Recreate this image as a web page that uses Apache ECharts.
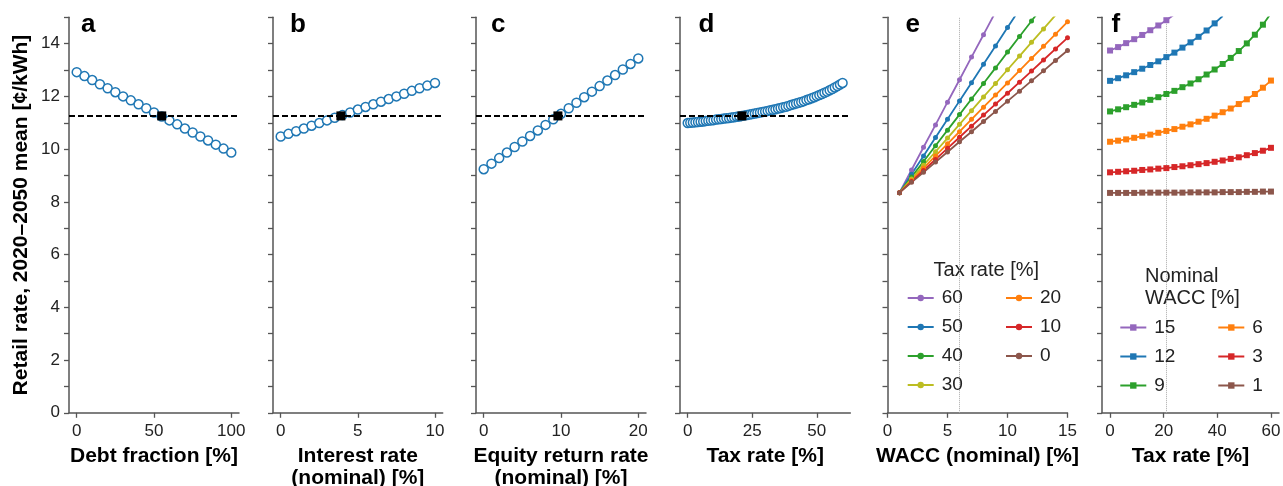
<!DOCTYPE html>
<html>
<head>
<meta charset="utf-8">
<script src="https://cdn.jsdelivr.net/npm/echarts@6/dist/echarts.min.js"></script>
<style>
  html, body { margin: 0; padding: 0; background: #fff; }
  #chart { width: 1283px; height: 486px; }
</style>
</head>
<body>
<div id="chart"></div>
<script>
// ---- Sensitivity data: retail rate, 2020–2050 mean [¢/kWh] ----
const baseRetail = 11.26;

// (a) debt fraction
const debtFraction = [0, 5, 10, 15, 20, 25, 30, 35, 40, 45, 50, 55, 60, 65, 70, 75, 80, 85, 90, 95, 100];
const retailByDebt = [12.92, 12.77, 12.62, 12.46, 12.31, 12.16, 12.00, 11.85, 11.70, 11.55, 11.39,
                      11.24, 11.09, 10.94, 10.78, 10.63, 10.48, 10.33, 10.17, 10.02, 9.87];
const baseDebt = 55;

// (b) nominal interest rate
const interestRate = [0, 0.5, 1, 1.5, 2, 2.5, 3, 3.5, 4, 4.5, 5, 5.5, 6, 6.5, 7, 7.5, 8, 8.5, 9, 9.5, 10];
const retailByInterest = [10.48, 10.58, 10.68, 10.78, 10.89, 10.99, 11.09, 11.19, 11.29, 11.39, 11.50,
                          11.60, 11.70, 11.80, 11.90, 12.00, 12.10, 12.21, 12.31, 12.41, 12.51];
const baseInterest = 3.9;

// (c) nominal equity return rate
const equityReturn = [0, 1, 2, 3, 4, 5, 6, 7, 8, 9, 10, 11, 12, 13, 14, 15, 16, 17, 18, 19, 20];
const retailByEquity = [9.24, 9.45, 9.66, 9.87, 10.08, 10.29, 10.50, 10.71, 10.92, 11.13, 11.34,
                        11.55, 11.76, 11.97, 12.18, 12.39, 12.60, 12.81, 13.02, 13.23, 13.44];
const baseEquity = 9.6;

// (d) tax rate
const taxRate = [0, 1, 2, 3, 4, 5, 6, 7, 8, 9, 10, 11, 12, 13, 14, 15, 16, 17, 18, 19, 20,
                 21, 22, 23, 24, 25, 26, 27, 28, 29, 30, 31, 32, 33, 34, 35, 36, 37, 38, 39, 40,
                 41, 42, 43, 44, 45, 46, 47, 48, 49, 50, 51, 52, 53, 54, 55, 56, 57, 58, 59, 60];
const retailByTax = [10.99, 11.00, 11.01, 11.02, 11.03, 11.04, 11.05, 11.07, 11.08, 11.09,
                     11.10, 11.12, 11.13, 11.14, 11.16, 11.17, 11.18, 11.20, 11.21, 11.23,
                     11.24, 11.26, 11.28, 11.29, 11.31, 11.33, 11.35, 11.37, 11.39, 11.41,
                     11.43, 11.45, 11.47, 11.49, 11.51, 11.54, 11.56, 11.59, 11.61, 11.64,
                     11.67, 11.70, 11.73, 11.76, 11.79, 11.82, 11.86, 11.89, 11.93, 11.97,
                     12.01, 12.05, 12.09, 12.14, 12.18, 12.23, 12.28, 12.34, 12.39, 12.45, 12.51];
const baseTax = 21;

// (e) nominal WACC, one line per tax rate
const waccNominal = [1, 2, 3, 4, 5, 6, 7, 8, 9, 10, 11, 12, 13, 14, 15];
const taxLevels = ['60', '50', '40', '30', '20', '10', '0'];
const retailWaccTax60 = [8.35, 9.21, 10.07, 10.92, 11.78, 12.63, 13.49, 14.34, 15.20];
const retailWaccTax50 = [8.35, 9.05, 9.74, 10.44, 11.13, 11.83, 12.52, 13.22, 13.91, 14.61, 15.30];
const retailWaccTax40 = [8.35, 8.94, 9.53, 10.13, 10.72, 11.31, 11.90, 12.49, 13.08, 13.68, 14.27, 14.86, 15.45];
const retailWaccTax30 = [8.35, 8.87, 9.39, 9.90, 10.42, 10.94, 11.46, 11.98, 12.49, 13.01, 13.53, 14.05, 14.56, 15.08];
const retailWaccTax20 = [8.35, 8.81, 9.28, 9.74, 10.20, 10.66, 11.13, 11.59, 12.05, 12.51, 12.98, 13.44, 13.90, 14.36, 14.83];
const retailWaccTax10 = [8.35, 8.77, 9.19, 9.61, 10.03, 10.45, 10.87, 11.29, 11.71, 12.12, 12.54, 12.96, 13.38, 13.80, 14.22];
const retailWaccTax0  = [8.35, 8.74, 9.12, 9.51, 9.89, 10.28, 10.66, 11.05, 11.43, 11.82, 12.20, 12.59, 12.97, 13.36, 13.74];
const baseWacc = 6;

// (f) tax rate, one line per nominal WACC
const taxRateCoarse = [0, 3, 6, 9, 12, 15, 18, 21, 24, 27, 30, 33, 36, 39, 42, 45, 48, 51, 54, 57, 60];
const waccLevels = ['15', '12', '9', '6', '3', '1'];
const retailTaxWacc15 = [13.74, 13.87, 14.02, 14.17, 14.33, 14.51, 14.69, 14.89, 15.11];
const retailTaxWacc12 = [12.59, 12.69, 12.80, 12.92, 13.05, 13.19, 13.33, 13.49, 13.66, 13.85, 14.05, 14.26, 14.50, 14.77, 15.05];
const retailTaxWacc9  = [11.43, 11.51, 11.59, 11.68, 11.77, 11.87, 11.97, 12.09, 12.21, 12.35, 12.49,
                         12.65, 12.83, 13.02, 13.23, 13.46, 13.72, 14.01, 14.34, 14.72, 15.15];
const retailTaxWacc6  = [10.28, 10.32, 10.37, 10.43, 10.49, 10.55, 10.62, 10.69, 10.76, 10.85, 10.94,
                         11.04, 11.15, 11.27, 11.40, 11.54, 11.71, 11.89, 12.09, 12.33, 12.60];
const retailTaxWacc3  = [9.12, 9.14, 9.16, 9.18, 9.21, 9.23, 9.26, 9.28, 9.32, 9.35, 9.39,
                         9.43, 9.47, 9.52, 9.57, 9.63, 9.69, 9.77, 9.85, 9.94, 10.05];
const retailTaxWacc1  = [8.34, 8.34, 8.34, 8.34, 8.35, 8.35, 8.35, 8.35, 8.35, 8.35, 8.36,
                         8.36, 8.36, 8.36, 8.37, 8.37, 8.37, 8.38, 8.38, 8.39, 8.39];

// ---- Styling ----
const FONT = "'Liberation Sans', Arial, Helvetica, sans-serif";
const AXIS_COLOR = '#555';
const TEXT_COLOR = '#222';
const BLUE = '#1f77b4';
const LEVEL_COLORS = ['#9467bd', '#1f77b4', '#2ca02c', '#bcbd22', '#ff7f0e', '#d62728', '#8c564b'];
const LEVEL_COLORS_F = ['#9467bd', '#1f77b4', '#2ca02c', '#ff7f0e', '#d62728', '#8c564b'];

const TOP = 17.3, HEIGHT = 395.5;
const panels = [
  { left: 69,    width: 170,   min: -5,   max: 105,  ticks: [0, 50, 100],     name: 'Debt fraction [%]' },
  { left: 273,   width: 169.7, min: -0.5, max: 10.5, ticks: [0, 5, 10],       name: 'Interest rate\n(nominal) [%]' },
  { left: 476,   width: 170,   min: -1,   max: 21,   ticks: [0, 10, 20],      name: 'Equity return rate\n(nominal) [%]' },
  { left: 680,   width: 170.3, min: -3,   max: 63,   ticks: [0, 25, 50],      name: 'Tax rate [%]' },
  { left: 887.5, width: 180,   min: 0,    max: 15,   ticks: [0, 5, 10, 15],   name: 'WACC (nominal) [%]' },
  { left: 1102,  width: 177,   min: -3,   max: 63,   ticks: [0, 20, 40, 60],  name: 'Tax rate [%]' }
];
const letters = [
  { t: 'a', x: 81 }, { t: 'b', x: 290 }, { t: 'c', x: 491 },
  { t: 'd', x: 698.5 }, { t: 'e', x: 905.5 }, { t: 'f', x: 1111.5 }
];

const pairs = (xs, ys) => ys.map((y, i) => [xs[i], y]);

// Fixed plot boxes; axis names may run to the canvas edge without shrinking the plots
const grid = panels.map(p => ({
  left: p.left, width: p.width, top: TOP, height: HEIGHT,
  containLabel: false, outerBoundsMode: 'none'
}));

const lineAxis = { show: true, onZero: false, lineStyle: { color: AXIS_COLOR, width: 1.5 } };
const tickAxis = { show: true, length: 5, inside: false, lineStyle: { color: AXIS_COLOR, width: 1.3 } };

const xAxis = panels.map((p, i) => ({
  type: 'value', gridIndex: i, min: p.min, max: p.max,
  axisLine: lineAxis,
  axisTick: Object.assign({}, tickAxis, { customValues: p.ticks }),
  axisLabel: { customValues: p.ticks, margin: 10.5, fontSize: 17, color: TEXT_COLOR, fontFamily: FONT },
  splitLine: { show: false },
  name: p.name, nameLocation: 'middle', nameGap: 31,
  nameTextStyle: { fontSize: 21, fontWeight: 'bold', color: '#000', fontFamily: FONT, lineHeight: 22 }
}));

const yAxis = panels.map((p, i) => ({
  type: 'value', gridIndex: i, min: 0, max: 15, interval: 1,
  axisLine: lineAxis,
  axisTick: tickAxis,
  axisLabel: {
    show: i === 0, margin: 9, fontSize: 17, color: TEXT_COLOR, fontFamily: FONT,
    formatter: v => (v % 2 === 0 ? String(v) : '')
  },
  splitLine: { show: false },
  name: i === 0 ? 'Retail rate, 2020–2050 mean [¢/kWh]' : '',
  nameLocation: 'middle', nameGap: 37,
  nameTextStyle: { fontSize: 21, fontWeight: 'bold', color: '#000', fontFamily: FONT }
}));

const series = [];

// Panels a–d: open circles, baseline dashed line, baseline square
const sweeps = [
  [debtFraction, retailByDebt, baseDebt],
  [interestRate, retailByInterest, baseInterest],
  [equityReturn, retailByEquity, baseEquity],
  [taxRate, retailByTax, baseTax]
];
sweeps.forEach(([xs, ys, bx], i) => {
  series.push({
    type: 'scatter', name: 'sweep' + i, xAxisIndex: i, yAxisIndex: i, z: 2, silent: true,
    symbol: 'circle', symbolSize: 9,
    itemStyle: { color: '#fff', borderColor: BLUE, borderWidth: 1.5, opacity: 1 },
    data: pairs(xs, ys),
    markLine: {
      silent: true, symbol: 'none', z: 5, animation: false,
      label: { show: false },
      lineStyle: { color: '#000', type: [6, 3], width: 1.8, opacity: 1 },
      data: [{ yAxis: baseRetail }]
    }
  });
  series.push({
    type: 'scatter', name: 'base' + i, xAxisIndex: i, yAxisIndex: i, z: 6, silent: true,
    symbol: 'rect', symbolSize: 9,
    itemStyle: { color: '#000', opacity: 1 },
    data: [[bx, baseRetail]]
  });
});

// Panel e: retail rate vs WACC for each tax rate
const waccLines = [retailWaccTax60, retailWaccTax50, retailWaccTax40, retailWaccTax30,
                   retailWaccTax20, retailWaccTax10, retailWaccTax0];
waccLines.forEach((ys, k) => {
  series.push({
    type: 'line', name: taxLevels[k], xAxisIndex: 4, yAxisIndex: 4, z: 2, silent: true,
    clip: true, symbol: 'circle', symbolSize: 5, showSymbol: true,
    color: LEVEL_COLORS[k],
    lineStyle: { color: LEVEL_COLORS[k], width: 1.8 },
    itemStyle: { color: LEVEL_COLORS[k] },
    data: pairs(waccNominal, ys)
  });
});
series.push({
  type: 'line', name: 'waccMark', xAxisIndex: 4, yAxisIndex: 4, data: [], silent: true,
  markLine: {
    silent: true, symbol: 'none', z: 1, animation: false, label: { show: false },
    lineStyle: { color: '#aaa', type: 'dotted', width: 1 },
    data: [{ xAxis: baseWacc }]
  }
});

// Panel f: retail rate vs tax rate for each nominal WACC
const taxLines = [retailTaxWacc15, retailTaxWacc12, retailTaxWacc9,
                  retailTaxWacc6, retailTaxWacc3, retailTaxWacc1];
taxLines.forEach((ys, k) => {
  series.push({
    type: 'line', name: waccLevels[k], xAxisIndex: 5, yAxisIndex: 5, z: 2, silent: true,
    clip: true, symbol: 'rect', symbolSize: 6, showSymbol: true,
    color: LEVEL_COLORS_F[k],
    lineStyle: { color: LEVEL_COLORS_F[k], width: 1.8 },
    itemStyle: { color: LEVEL_COLORS_F[k] },
    data: pairs(taxRateCoarse, ys)
  });
});
series.push({
  type: 'line', name: 'taxMark', xAxisIndex: 5, yAxisIndex: 5, data: [], silent: true,
  markLine: {
    silent: true, symbol: 'none', z: 1, animation: false, label: { show: false },
    lineStyle: { color: '#aaa', type: 'dotted', width: 1 },
    data: [{ xAxis: baseTax }]
  }
});

const legendBase = {
  orient: 'vertical', padding: 0, itemWidth: 26, itemHeight: 8, itemGap: 10,
  selectedMode: false,
  textStyle: { fontSize: 19, lineHeight: 19, color: TEXT_COLOR, fontFamily: FONT, padding: [0, 0, 0, 3] }
};
const legend = [
  Object.assign({}, legendBase, { left: 906.7, top: 288.5, data: ['60', '50', '40', '30'] }),
  Object.assign({}, legendBase, { left: 1005, top: 288.5, data: ['20', '10', '0'] }),
  Object.assign({}, legendBase, { left: 1119.3, top: 318, data: ['15', '12', '9'] }),
  Object.assign({}, legendBase, { left: 1217.3, top: 318, data: ['6', '3', '1'] })
];

const title = letters.map(l => ({
  text: l.t, left: l.x, top: 12, padding: 0,
  textStyle: { fontSize: 26, fontWeight: 'bold', color: '#000', fontFamily: FONT, lineHeight: 26 }
}));

const graphic = [
  { type: 'text', x: 986.3, y: 270, silent: true,
    style: { text: 'Tax rate [%]', fontSize: 20, fontFamily: FONT, fill: TEXT_COLOR, align: 'center', verticalAlign: 'middle' } },
  { type: 'text', x: 1145, y: 287.5, silent: true,
    style: { text: 'Nominal\nWACC [%]', fontSize: 20, lineHeight: 21.6, fontFamily: FONT, fill: TEXT_COLOR, align: 'left', verticalAlign: 'middle' } }
];

const chart = echarts.init(document.getElementById('chart'), null, { renderer: 'canvas' });
chart.setOption({
  animation: false,
  backgroundColor: '#fff',
  title, grid, xAxis, yAxis, series, legend, graphic,
  tooltip: { show: false }
});
</script>
</body>
</html>
